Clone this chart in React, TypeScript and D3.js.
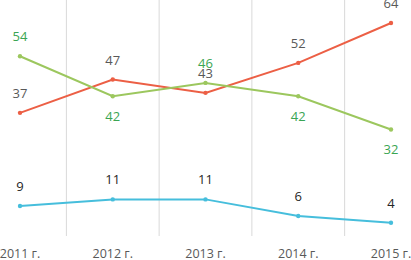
import React from "react";
import * as d3 from "d3";

const categories = ["2011 г.", "2012 г.", "2013 г.", "2014 г.", "2015 г."];
const orangeValues = [37, 47, 43, 52, 64];
const greenValues = [54, 42, 46, 42, 32];
const blueValues = [9, 11, 11, 6, 4];
const greenLabelBelow = [false, true, false, true, true];

const W = 411;
const H = 260;

export default function App() {
  const x = d3.scalePoint<string>().domain(categories).range([20, 391]);
  const step = x.step();
  const y = d3.scaleLinear().domain([0, 70]).range([236, 3]);
  const line = d3
    .line<number>()
    .x((_, i) => x(categories[i]) as number)
    .y((d) => y(d));
  const font = "'Open Sans', 'Liberation Sans', sans-serif";
  const series = [
    { values: orangeValues, color: "#EC5F45", label: "#595959", below: [false, false, false, false, false] },
    { values: greenValues, color: "#9CC75E", label: "#3AA553", below: greenLabelBelow },
    { values: blueValues, color: "#46BEDC", label: "#262626", below: [false, false, false, false, false] },
  ];
  const gridX = categories.slice(0, -1).map((c) => (x(c) as number) + step / 2);
  return (
    <svg width={W} height={H} style={{ position: "absolute", left: 0, top: 0 }}>
      <rect width={W} height={H} fill="#fff" />
      {gridX.map((gx, i) => (
        <line key={i} x1={gx} x2={gx} y1={0} y2={y(0)} stroke="#D9D9D9" strokeWidth={1} />
      ))}
      {series.map((s, si) => (
        <g key={si}>
          <path d={line(s.values) || ""} fill="none" stroke={s.color} strokeWidth={2} />
          {s.values.map((v, i) => (
            <circle key={i} cx={x(categories[i])} cy={y(v)} r={2.2} fill={s.color} />
          ))}
          {s.values.map((v, i) => (
            <text
              key={"t" + i}
              x={x(categories[i])}
              y={s.below[i] ? y(v) + 25 : y(v) - 15}
              textAnchor="middle"
              fontFamily={font}
              fontSize={13}
              fill={s.label}
            >
              {v}
            </text>
          ))}
        </g>
      ))}
      {categories.map((c) => (
        <text key={c} x={x(c)} y={258} textAnchor="middle" fontFamily={font} fontSize={12.5} fill="#595959">
          {c}
        </text>
      ))}
    </svg>
  );
}
